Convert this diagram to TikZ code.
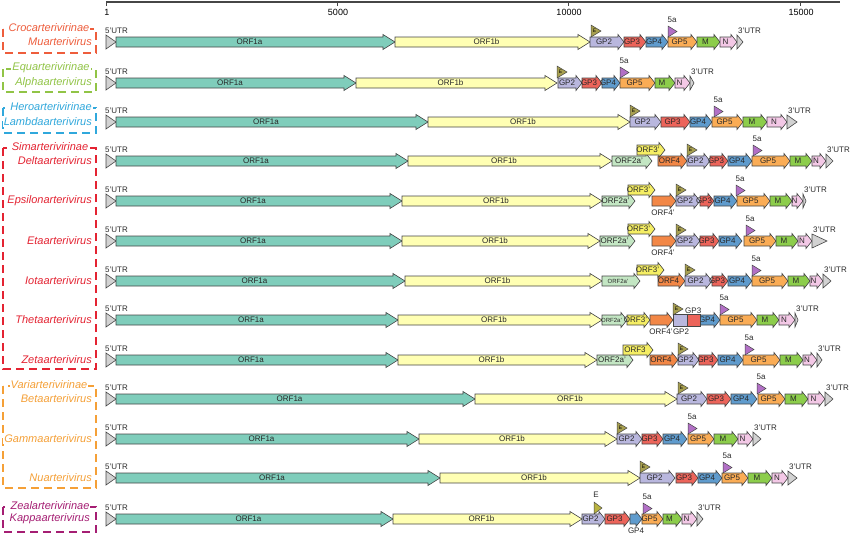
\documentclass[tikz,border=0pt]{standalone}
\usepackage{fontspec}
\setmainfont{Liberation Sans}

% gene colours
\definecolor{outline}{RGB}{70,70,70}
\definecolor{labtext}{RGB}{40,40,40}
\definecolor{utr}{RGB}{210,210,210}
\definecolor{orfa}{RGB}{127,205,187}
\definecolor{orfb}{RGB}{255,255,179}
\definecolor{orftwo}{RGB}{195,230,195}
\definecolor{orfthree}{RGB}{245,238,100}
\definecolor{orffour}{RGB}{242,135,70}
\definecolor{gptwo}{RGB}{185,183,222}
\definecolor{gpthree}{RGB}{236,100,90}
\definecolor{gpfour}{RGB}{95,155,205}
\definecolor{gpfive}{RGB}{250,172,85}
\definecolor{mprot}{RGB}{140,205,75}
\definecolor{nprot}{RGB}{243,200,230}
\definecolor{eprot}{RGB}{168,160,80}
\definecolor{fivea}{RGB}{178,112,198}
% subfamily colours
\definecolor{crocol}{RGB}{238,93,60}
\definecolor{equcol}{RGB}{145,196,70}
\definecolor{herocol}{RGB}{48,168,220}
\definecolor{simcol}{RGB}{228,35,50}
\definecolor{varcol}{RGB}{245,160,55}
\definecolor{zealcol}{RGB}{165,30,115}

\tikzset{
  orf/.style={draw=outline, line width=0.6pt},
  orftext/.style={font=\fontsize{8}{8}\selectfont, text=labtext, inner sep=0pt},
  flagtri/.style={draw=outline, line width=0.5pt},
  genus/.style={font=\fontsize{11}{12}\selectfont\itshape, fill=white, inner sep=1pt},
  subfam/.style={dash pattern=on 8pt off 5pt, line width=1.1pt},
  ticklab/.style={font=\fontsize{9}{10}\selectfont, inner sep=0pt}
}

\newcommand{\smalltag}[1]{{\fontsize{6}{6}\selectfont #1}}

% one open reading frame: name, start, end, y, colour, text
\newcommand{\gene}[6]{%
  \pgfmathsetmacro{\orflen}{#3-#2}%
  \pgfmathsetmacro{\orfhead}{\orflen>100 ? 12 : min(6,\orflen)}%
  \pgfmathsetmacro{\orfmid}{#3-\orfhead}%
  \draw[orf, fill=#5] (#2,#4-5) -- (\orfmid,#4-5) -- (\orfmid,#4-7.5) -- (#3,#4)
    -- (\orfmid,#4+7.5) -- (\orfmid,#4+5) -- (#2,#4+5) -- cycle;
  \node[orftext] (#1) at ({(#2+\orfmid)/2},#4) {#6};
}

% one genome: name, y, 3'UTR start, 3'UTR end, genes
\newcommand{\genome}[5]{%
  \draw[orf, fill=utr] (106,#2-7) -- (116,#2) -- (106,#2+7) -- cycle;
  \node[orftext, anchor=west] (#1five) at (105,#2-11) {5'UTR};
  \foreach \xa/\xb/\col/\lab [count=\i] in {#5}
    {\gene{#1g\i}{\xa}{\xb}{#2}{\col}{\lab}}
  \draw[orf, fill=utr] (#3,#2-7) -- (#4,#2) -- (#3,#2+7) -- cycle;
  \node[orftext, anchor=west] (#1three) at (#3+1,#2-11) {3'UTR};
}

% E and 5a flags: name, x, y
\newcommand{\eflag}[3]{%
  \draw[flagtri, fill=eprot] (#2,#3-5) -- (#2,#3-17) -- (#2+10,#3-11) -- cycle;
  \node[font=\fontsize{5}{5}\selectfont, inner sep=0pt] (#1) at (#2+3.5,#3-11) {E};
}
\newcommand{\fiveflag}[3]{%
  \draw[flagtri, fill=fivea] (#2,#3-5) -- (#2,#3-16) -- (#2+9,#3-10.5) -- cycle;
  \node[orftext] (#1) at (#2+4,#3-22) {5a};
}

\begin{document}
\begin{tikzpicture}[x=1pt, y=-1pt]
  \useasboundingbox (0,0) rectangle (850,536);

  % genome axis
  \draw[line width=1.3pt, draw=outline] (106,2) -- (840,2);
  \foreach \xt/\lt [count=\k] in {106/1, 337/5000, 568/10000, 800/15000} {
    \draw[line width=1pt, draw=outline] (\xt,2) -- (\xt,6);
    \node[ticklab] (tick\k) at (\xt+1,12) {\lt};
  }

  % subfamily boxes
  \draw[subfam, draw=crocol] (3,29) rectangle (96,53);
  \node[genus, text=crocol] (croco) at (49,28) {Crocarterivirinae};
  \node[genus, text=crocol, anchor=east] (mu) at (93,42) {Muarterivirus};

  \draw[subfam, draw=equcol] (3,69) rectangle (96,92);
  \node[genus, text=equcol] (equ) at (51,68) {Equarterivirinae};
  \node[genus, text=equcol, anchor=east] (alpha) at (93,83) {Alphaarterivirus};

  \draw[subfam, draw=herocol] (3,108) rectangle (96,133);
  \node[genus, text=herocol] (hero) at (51,107) {Heroarterivirinae};
  \node[genus, text=herocol, anchor=east] (lambda) at (93,122) {Lambdaarterivirus};

  \draw[subfam, draw=simcol] (3,148) rectangle (96,369);
  \node[genus, text=simcol] (sim) at (50,147) {Simarterivirinae};
  \node[genus, text=simcol, anchor=east] (delta) at (93,161) {Deltaarterivirus};
  \node[genus, text=simcol, anchor=east] (epsilon) at (93,201) {Epsilonarterivirus};
  \node[genus, text=simcol, anchor=east] (eta) at (93,241) {Etaarterivirus};
  \node[genus, text=simcol, anchor=east] (iota) at (93,281) {Iotaarterivirus};
  \node[genus, text=simcol, anchor=east] (theta) at (93,320) {Thetaarterivirus};
  \node[genus, text=simcol, anchor=east] (zeta) at (93,360) {Zetaarterivirus};

  \draw[subfam, draw=varcol] (3,386) rectangle (96,488);
  \node[genus, text=varcol] (vari) at (49,385) {Variarterivirinae};
  \node[genus, text=varcol, anchor=east] (beta) at (93,399) {Betaarterivirus};
  \node[genus, text=varcol, anchor=east] (gamma) at (93,439) {Gammaarterivirus};
  \node[genus, text=varcol, anchor=east] (nu) at (93,478) {Nuarterivirus};

  \draw[subfam, draw=zealcol] (3,507) rectangle (96,532);
  \node[genus, text=zealcol] (zeal) at (50,506) {Zealarterivirinae};
  \node[genus, text=zealcol, anchor=east] (kappa) at (91,519) {Kappaarterivirus};

  % Muarterivirus
  \genome{r1}{42}{737}{743}{116/395/orfa/ORF1a, 395/590/orfb/ORF1b, 590/624/gptwo/GP2,
    624/646/gpthree/GP3, 646/668/gpfour/GP4, 668/697/gpfive/GP5, 697/720/mprot/M, 720/737/nprot/N}
  \eflag{r1e}{591}{42}
  \fiveflag{r1v}{668}{42}

  % Alphaarterivirus
  \genome{r2}{83}{690}{694}{116/356/orfa/ORF1a, 356/557/orfb/ORF1b, 558/582/gptwo/GP2,
    582/602/gpthree/GP3, 602/620/gpfour/GP4, 620/655/gpfive/GP5, 655/675/mprot/M, 675/690/nprot/N}
  \eflag{r2e}{557}{83}
  \fiveflag{r2v}{620}{83}

  % Lambdaarterivirus
  \genome{r3}{122}{787}{797}{116/428/orfa/ORF1a, 428/630/orfb/ORF1b, 630/661/gptwo/GP2,
    661/690/gpthree/GP3, 690/712/gpfour/GP4, 712/743/gpfive/GP5, 743/767/mprot/M, 767/787/nprot/N}
  \eflag{r3e}{630}{122}
  \fiveflag{r3v}{714}{122}

  % Deltaarterivirus
  \genome{r4}{161}{826}{833}{116/408/orfa/ORF1a, 408/612/orfb/ORF1b, 612/652/orftwo/ORF2a',
    658/687/orffour/ORF4, 687/710/gptwo/GP2, 710/728/gpthree/GP3, 728/752/gpfour/GP4,
    752/790/gpfive/GP5, 790/812/mprot/M, 812/826/nprot/N}
  \gene{r4o3}{637}{665}{150}{orfthree}{ORF3'}
  \eflag{r4e}{687}{161}
  \fiveflag{r4v}{753}{161}

  % Epsilonarterivirus
  \genome{r5}{201}{803}{806}{116/402/orfa/ORF1a, 402/602/orfb/ORF1b, 602/635/orftwo/ORF2a',
    652/676/orffour/{}, 676/700/gptwo/GP2, 700/714/gpthree/GP3, 714/737/gpfour/GP4,
    737/770/gpfive/GP5, 770/792/mprot/M, 792/803/nprot/N}
  \gene{r5o3}{628}{655}{190}{orfthree}{ORF3'}
  \node[orftext] (r5o4) at (663,213) {ORF4'};
  \eflag{r5e}{676}{201}
  \fiveflag{r5v}{736}{201}

  % Etaarterivirus
  \genome{r6}{241}{812}{827}{116/402/orfa/ORF1a, 402/600/orfb/ORF1b, 600/635/orftwo/ORF2a',
    652/676/orffour/{}, 676/700/gptwo/GP2, 700/719/gpthree/GP3, 719/742/gpfour/GP4,
    744/776/gpfive/GP5, 776/798/mprot/M, 798/812/nprot/N}
  \gene{r6o3}{628}{655}{229}{orfthree}{ORF3'}
  \node[orftext] (r6o4) at (663,253) {ORF4'};
  \eflag{r6e}{676}{241}
  \fiveflag{r6v}{746}{241}

  % Iotaarterivirus
  \genome{r7}{281}{823}{831}{116/405/orfa/ORF1a, 405/602/orfb/ORF1b, 602/640/orftwo/\smalltag{ORF2a'},
    658/685/orffour/ORF4, 685/712/gptwo/GP2, 712/728/gpthree/GP3, 728/752/gpfour/GP4,
    752/788/gpfive/GP5, 788/810/mprot/M, 810/823/nprot/N}
  \gene{r7o3}{637}{664}{270}{orfthree}{ORF3'}
  \eflag{r7e}{685}{281}
  \fiveflag{r7v}{752}{281}

  % Thetaarterivirus
  \genome{r8}{320}{795}{798}{116/398/orfa/ORF1a, 398/602/orfb/ORF1b, 602/627/orftwo/\smalltag{ORF2a'},
    627/650/orfthree/ORF3', 650/673/orffour/{}, 700/720/gpfour/GP4, 720/757/gpfive/GP5,
    757/779/mprot/M, 779/795/nprot/N}
  \draw[orf, fill=gptwo] (673,314) rectangle (687,326);
  \draw[orf, fill=gpthree] (687,314) rectangle (700,326);
  \node[orftext] (r8o4) at (661,332) {ORF4'};
  \node[orftext] (r8gp2) at (681,332) {GP2};
  \node[orftext, anchor=west] (r8gp3) at (685,311) {GP3};
  \eflag{r8e}{673}{320}
  \fiveflag{r8v}{720}{320}

  % Zetaarterivirus
  \genome{r9}{360}{817}{822}{116/398/orfa/ORF1a, 398/597/orfb/ORF1b, 597/633/orftwo/ORF2a',
    650/678/orffour/ORF4, 678/699/gptwo/GP2, 699/718/gpthree/GP3, 718/743/gpfour/GP4,
    743/780/gpfive/GP5, 780/803/mprot/M, 803/817/nprot/N}
  \gene{r9o3}{623}{653}{350}{orfthree}{ORF3}
  \eflag{r9e}{678}{360}
  \fiveflag{r9v}{745}{360}

  % Betaarterivirus
  \genome{r10}{399}{825}{833}{116/475/orfa/ORF1a, 475/677/orfb/ORF1b, 677/707/gptwo/GP2,
    707/731/gpthree/GP3, 731/757/gpfour/GP4, 758/785/gpfive/GP5, 785/808/mprot/M, 808/825/nprot/N}
  \eflag{r10e}{678}{399}
  \fiveflag{r10v}{757}{399}

  % Gammaarterivirus
  \genome{r11}{439}{753}{761}{116/419/orfa/ORF1a, 419/617/orfb/ORF1b, 617/642/gptwo/GP2,
    642/663/gpthree/GP3, 663/687/gpfour/GP4, 688/714/gpfive/GP5, 714/738/mprot/M, 738/753/nprot/N}
  \eflag{r11e}{617}{439}
  \fiveflag{r11v}{688}{439}

  % Nuarterivirus
  \genome{r12}{478}{788}{797}{116/440/orfa/ORF1a, 440/640/orfb/ORF1b, 640/675/gptwo/GP2,
    676/698/gpthree/GP3, 698/722/gpfour/GP4, 722/748/gpfive/GP5, 748/772/mprot/M, 772/788/nprot/N}
  \eflag{r12e}{640}{478}
  \fiveflag{r12v}{723}{478}

  % Kappaarterivirus
  \genome{r13}{519}{697}{703}{116/393/orfa/ORF1a, 393/582/orfb/ORF1b, 582/605/gptwo/GP2,
    605/630/gpthree/GP3, 630/642/gpfour/{}, 642/663/gpfive/GP5, 663/682/mprot/M, 682/697/nprot/N}
  \node[orftext] (r13gp4) at (636,531) {GP4};
  \draw[flagtri, fill=eprot!80!yellow] (594,514) -- (594,502) -- (602,508) -- cycle;
  \node[orftext] (r13e) at (596,495) {E};
  \fiveflag{r13v}{643}{519}
\end{tikzpicture}
\end{document}
